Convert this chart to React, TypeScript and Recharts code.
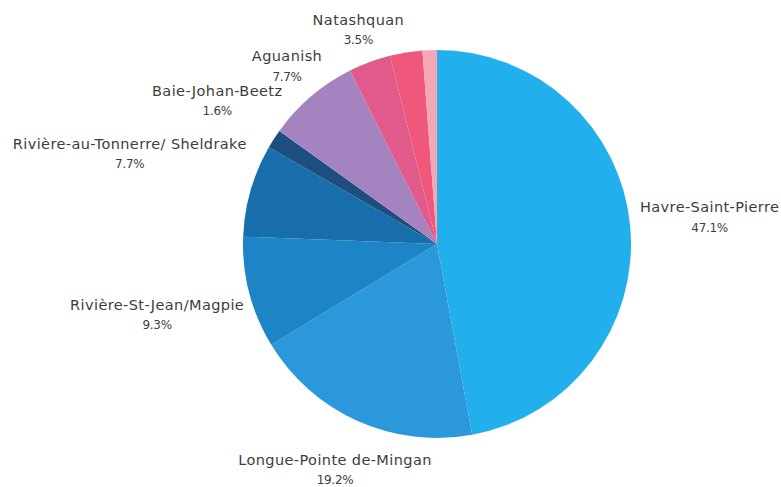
import { PieChart, Pie, Cell } from "recharts";

const NAMES = [
    "Havre-Saint-Pierre",
    "Longue-Pointe de-Mingan",
    "Rivière-St-Jean/Magpie",
    "Rivière-au-Tonnerre/ Sheldrake",
    "Baie-Johan-Beetz",
    "Aguanish",
    "Natashquan",
    "",
    "",
];
const VALUES = [47.1, 19.2, 9.3, 7.7, 1.6, 7.7, 3.5, 2.7, 1.2];
const COLORS = ["#22b0ec", "#2a98da", "#1d84c6", "#176eab", "#1c4e7f", "#a583c1", "#e05b8c", "#f0587b", "#f6a7b6"];

const data = NAMES.map((name, i) => ({ name, value: VALUES[i] }));

const RAD = Math.PI / 180;
const FONT = "'DejaVu Sans', sans-serif";

// places each label just outside the slice, pushed out by its own text box
const renderLabel = (props: any) => {
    const { cx, cy, midAngle, outerRadius, name, value } = props;
    if (!name) return null;
    const ux = Math.cos(midAngle * RAD);
    const uy = -Math.sin(midAngle * RAD);
    const hw = (name.length * 8) / 2;
    const hh = 12;
    const r = outerRadius + 7 + hw * Math.abs(ux) + hh * Math.abs(uy);
    const x = cx + r * ux;
    const y = cy + r * uy;
    return (
        <g>
            <text x={x} y={y - 11} textAnchor="middle" dominantBaseline="middle" fill="#3d3d3d" fontSize={14.5} letterSpacing={0.4} fontFamily={FONT}>
                {name}
            </text>
            <text x={x} y={y + 9} textAnchor="middle" dominantBaseline="middle" fill="#3d3d3d" fontSize={12} letterSpacing={-0.3} fontFamily={FONT}>
                {`${value.toFixed(1)}%`}
            </text>
        </g>
    );
};

export default function App() {
    return (
        <div style={{ position: "absolute", left: 0, top: 0, width: 781, height: 487, background: "#ffffff" }}>
            <PieChart width={781} height={487} margin={{ top: 0, right: 0, bottom: 0, left: 0 }}>
                <Pie
                    data={data}
                    dataKey="value"
                    nameKey="name"
                    cx={437}
                    cy={244}
                    outerRadius={194}
                    startAngle={90}
                    endAngle={-270}
                    stroke="none"
                    label={renderLabel}
                    labelLine={false}
                    isAnimationActive={false}
                >
                    {data.map((_, index) => (
                        <Cell key={`cell-${index}`} fill={COLORS[index % COLORS.length]} />
                    ))}
                </Pie>
            </PieChart>
        </div>
    );
}
